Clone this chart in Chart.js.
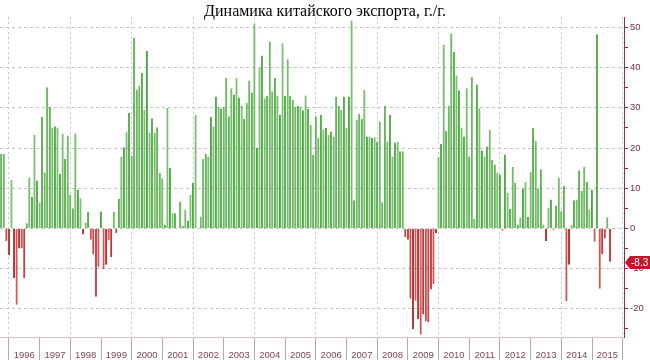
<!DOCTYPE html>
<html><head><meta charset="utf-8">
<script src="https://cdn.jsdelivr.net/npm/chart.js@4.4.1/dist/chart.umd.min.js"></script>
<style>html,body{margin:0;padding:0;background:#fff;}#wrap{width:650px;height:360px;}</style>
</head><body><div id="wrap"><canvas id="c" width="650" height="360"></canvas></div>
<script>
// China exports, y/y %, monthly (Sep 1995 .. Jul 2015)
const firstYear = 1995, firstMonth = 9;        // first category: Sep 1995
const lastYear = 2015, lastMonth = 12;          // axis runs to Dec 2015
const chartTitle = 'Динамика китайского экспорта, г./г.';

const exp1995 = [18.6, 18.6, -3.2, -6.6];
const exp1996 = [12.1, -12.4, -19, -5, -5, -12.4, 1.3, 12.7, 7.8, 23.3, 11.9, 6.5];
const exp1997 = [27.7, 13.9, 35.1, 30.2, 25.1, 25.4, 25.1, 13.6, 23.6, 17.3, 23.1, 8.3];
const exp1998 = [5.0, 23.6, 9.6, 7.5, -1.5, 1.5, 4.2, -2.8, -6.5, -17, -9.5, 4.2];
const exp1999 = [-10.1, -9, -3, -7.1, 4.1, -1.2, 7.4, 17.9, 20.2, 24, 28.7, 18];
const exp2000 = [47.5, 34.5, 35.5, 38.7, 29.5, 44.2, 23.9, 27.4, 23.9, 25.2, 13.8, 12.5];
const exp2001 = [0.9, 30, 15.1, 3.8, 3.8, -0.2, 6.7, 0.7, 4.6, 2.0, 8.4, 11.4];
const exp2002 = [28.3, -0.2, 3, 17.3, 18.6, 17.9, 27.7, 25.4, 32.8, 30.3, 29.9, 30.2];
const exp2003 = [37.4, 27.9, 34.9, 33.3, 37.4, 32.6, 30.5, 27.2, 31.3, 36.8, 33.8, 50.9];
const exp2004 = [20, 39.9, 43, 32.4, 33, 46.5, 34.1, 37.4, 33, 28.3, 46.1, 33];
const exp2005 = [42.1, 33, 32, 30.3, 30.5, 30.3, 29.4, 33.1, 29.7, 25.8, 18.3, 27.9];
const exp2006 = [22.5, 28.3, 24.6, 25, 23.3, 24.1, 22.9, 32.8, 30.5, 29.5, 32.8, 25];
const exp2007 = [32.8, 51.7, 7, 27, 28.5, 27.2, 34.5, 22.9, 22.9, 22.5, 22.7, 21.6];
const exp2008 = [26.6, 6.5, 30.5, 21.6, 28.3, 17.9, 21.4, 21.6, 19.2, 19.2, -2.2, -2.8];
const exp2009 = [-17.5, -25, -18, -22.6, -26.4, -21.4, -23, -23.4, -15.2, -13.8, -1.2, 17.7];
const exp2010 = [21, 45.7, 24.3, 30.5, 48.5, 43.9, 38.1, 34.4, 25.1, 22.9, 34.9, 17.9];
const exp2011 = [37.7, 2.4, 35.8, 29.9, 19.4, 17.9, 20.4, 24.5, 17.1, 15.9, 13.8, 13.4];
const exp2012 = [-0.5, 18.4, 8.9, 4.9, 15.3, 11.3, 1, 2.7, 9.9, 11.6, 2.9, 14.1];
const exp2013 = [25, 21.8, 10, 14.7, 1, -3.1, 5.1, 7.2, -0.3, 5.6, 12.7, 4.3];
const exp2014 = [10.6, -18.1, -9, 0.9, 7, 7.2, 14.5, 9.4, 15.3, 11.6, 4.7, 9.7];
const exp2015 = [-3.3, 48.3, -15, -6.4, -2.5, 2.8, -8.3];

const yTickStep = 5, yLabelStep = 10, yMin = -27, yMax = 52.6;

const exportValues = [].concat(exp1995, exp1996, exp1997, exp1998, exp1999, exp2000, exp2001,
  exp2002, exp2003, exp2004, exp2005, exp2006, exp2007, exp2008, exp2009, exp2010, exp2011,
  exp2012, exp2013, exp2014, exp2015);

const categories = [];
for (let y = firstYear, m = firstMonth; y < lastYear || (y === lastYear && m <= lastMonth); ) {
  categories.push(y + '-' + String(m).padStart(2, '0'));
  m++; if (m > 12) { m = 1; y++; }
}
const series = categories.map((c, i) => i < exportValues.length ? exportValues[i] : null);
const catYear = i => +categories[i].slice(0, 4);
const catMonth = i => +categories[i].slice(5, 7);
const lastIdx = exportValues.length - 1;

const flagPlugin = {
  id: 'lastFlag',
  afterDraw(chart) {
    const ys = chart.scales.y, ctx = chart.ctx;
    const v = exportValues[lastIdx];
    const py = Math.round(ys.getPixelForValue(v)) + 0.5;
    const tip = ys.left + 1, h = 6.5, r = chart.width;
    ctx.save();
    ctx.fillStyle = '#c2142b';
    ctx.beginPath();
    ctx.moveTo(tip, py);
    ctx.lineTo(tip + 5, py - h);
    ctx.lineTo(r, py - h);
    ctx.lineTo(r, py + h);
    ctx.lineTo(tip + 5, py + h);
    ctx.closePath();
    ctx.fill();
    ctx.fillStyle = '#ffffff';
    ctx.font = '10px "Liberation Sans"';
    ctx.textBaseline = 'middle';
    ctx.textAlign = 'left';
    ctx.fillText(String(v), tip + 6, py + 0.5);
    ctx.restore();
  }
};

new Chart(document.getElementById('c'), {
  type: 'bar',
  data: {
    labels: categories,
    datasets: [{
      data: series,
      backgroundColor: ctx => (ctx.raw !== null && ctx.raw < 0) ? '#cf2a2a' : '#5cb84c',
      borderColor: ctx => (ctx.raw !== null && ctx.raw < 0) ? '#8e1616' : '#277f22',
      borderWidth: {left: 0.8, right: 0, top: 0, bottom: 0},
      borderSkipped: false,
      barPercentage: 0.8,
      categoryPercentage: 1.0
    }]
  },
  options: {
    responsive: false,
    animation: false,
    layout: {padding: 0},
    plugins: {
      legend: {display: false},
      tooltip: {enabled: false},
      title: {
        display: true, text: chartTitle, color: '#000',
        font: {family: '"Liberation Serif"', size: 16, weight: 'normal', lineHeight: 1},
        padding: {top: 4, bottom: -3}
      }
    },
    scales: {
      x: {
        type: 'category',
        offset: true,
        afterFit(s) { s.height = 23; },
        grid: {
          offset: false,
          color: c => (catMonth(c.index) === 12 && catYear(c.index) % 2 === 1) ? '#c4c4c4' : 'rgba(0,0,0,0)',
          tickColor: c => catMonth(c.index) === 12 ? '#b8a6ad' : 'rgba(0,0,0,0)',
          tickLength: 23,
          tickBorderDash: [],
          lineWidth: 1
        },
        border: {display: true, color: '#dcc0c8', dash: [2, 3]},
        ticks: {
          autoSkip: false, maxRotation: 0, minRotation: 0, padding: -10,
          color: '#7d4656',
          font: {family: '"Liberation Sans"', size: 9.5},
          callback: (v, i) => catMonth(i) === 6 ? String(catYear(i)) : ''
        }
      },
      y: {
        position: 'right',
        min: yMin, max: yMax,
        afterFit(s) { s.width = 26; },
        afterBuildTicks(s) {
          const t = [];
          for (let v = Math.ceil(yMin / yTickStep) * yTickStep; v <= yMax; v += yTickStep) t.push({value: v});
          s.ticks = t;
        },
        grid: {
          color: c => (c.tick && c.tick.value % yLabelStep === 0) ? '#c4c4c4' : 'rgba(0,0,0,0)',
          tickColor: '#8a2f42',
          tickLength: 4,
          tickBorderDash: []
        },
        border: {display: true, color: '#8a2f42', dash: [3, 3]},
        ticks: {
          color: '#7b2a3d', padding: 2,
          font: {family: '"Liberation Sans"', size: 9.5},
          callback: v => (v % yLabelStep === 0) ? String(v) : ''
        }
      }
    }
  },
  plugins: [flagPlugin]
});
</script>
</body></html>
